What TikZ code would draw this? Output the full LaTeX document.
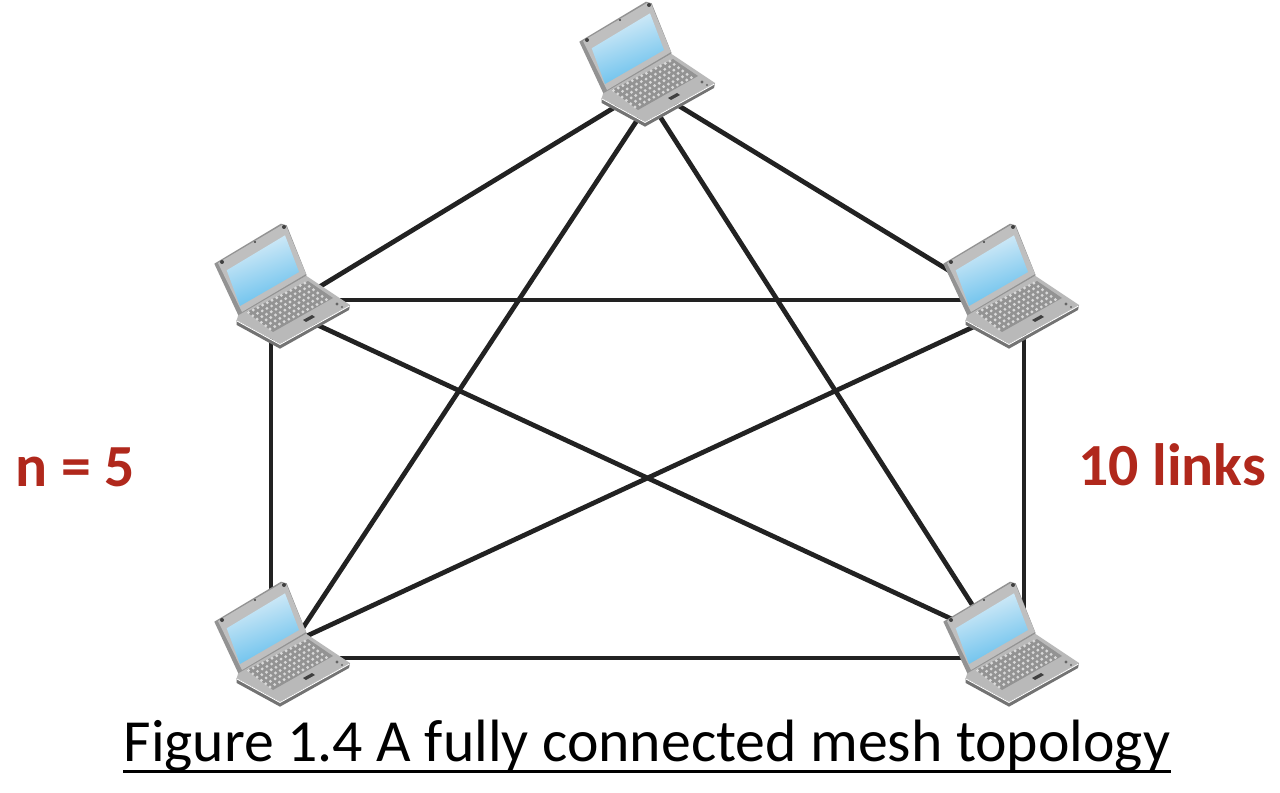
\documentclass[tikz,border=0pt]{standalone}
\usepackage{fontspec}
\setmainfont{Carlito}
\usetikzlibrary{positioning, backgrounds}
\definecolor{linkblack}{HTML}{222222}
\definecolor{labelred}{HTML}{B0281C}
\definecolor{screenlight}{HTML}{DCEEF8}
\definecolor{screenblue}{HTML}{63BEEC}
\tikzset{
  laptop/.pic={
    % ports for the links, hidden under the laptop
    \coordinate (-c) at (68,87);
    \coordinate (-h) at (68,78);
    \coordinate (-s) at (68,67);
    \coordinate (-l) at (56,80);
    \coordinate (-r) at (80,80);
    \coordinate (-p) at (63,90);
    \coordinate (-q) at (77,90);
    % base and lid
    \fill[gray!90!black] (21.7,98) -- (21.7,103) -- (65,126.7) -- (134,88) -- (135,83) -- (65,121.7) -- cycle;
    \fill[gray!55] (21.7,98) -- (23.3,93) -- (90,53) -- (135,83) -- (65,121.7) -- cycle;
    \fill[gray!85] (-0.7,41.7) -- (66,1.7) -- (71.7,3.3) -- (91.7,53.3) -- (23.3,93.3) -- cycle;
    \fill[gray!50] (3,41) -- (67,3) -- (71.7,5) -- (91,52) -- (27,90) -- cycle;
    \shade[left color=screenlight, right color=screenblue, shading angle=20] (11.7,48.3) -- (70,13.3) -- (84,50) -- (25,84) -- cycle;
    \fill[black!75] (7,40) circle (2) (69,5) circle (2) (40,20) circle (1.2);
    % keyboard
    \fill[gray!85] (31.7,90) -- (93,59) -- (118,76) -- (58,110) -- cycle;
    \foreach \i in {0,...,12} \foreach \j in {0,...,5}
      \fill[gray!30] ({33.5+\i*4.7+\j*4.3},{90.5-\i*2.45+\j*3.3}) circle (1.6);
    \fill[black!75] (88,98) -- (97,93) -- (100,95) -- (91,100) -- cycle;
    \fill[black!60] (127,85) circle (1.2) (122,82) circle (1.6);
    \draw[white, line width=0.5pt] (22,99) -- (65,122.5) -- (134.5,84);
  },
  link/.style={line width=2.7pt, linkblack},
  redlbl/.style={font=\fontsize{34}{40}\selectfont\bfseries, text=labelred, inner sep=0pt},
  caption/.style={font=\fontsize{34}{40}\selectfont, text=black, inner sep=0pt},
}
\begin{document}
\begin{tikzpicture}[x=0.02cm, y=-0.02cm]
  \useasboundingbox (0,0) rectangle (1280,793);
  % laptops
  \pic (top) at (580,0) {laptop};
  \pic (left) at (215,222) {laptop};
  \pic (right) at (944,222) {laptop};
  \pic (botl) at (215,580) {laptop};
  \pic (botr) at (944,580) {laptop};
  % links, behind the laptops
  \begin{scope}[on background layer]
    \draw[link] (top-c) -- (left-c);
    \draw[link] (top-c) -- (right-c);
    \draw[link] (top-q) -- (botl-h);
    \draw[link] (top-p) -- (botr-c);
    \draw[link] (left-h) -- (right-h);
    \draw[link] (left-l) -- (botl-l);
    \draw[link] (right-r) -- (botr-r);
    \draw[link] (left-c) -- (botr-s);
    \draw[link] (right-c) -- (botl-s);
    \draw[link] (botl-h) -- (botr-h);
  \end{scope}
  % labels
  \node[redlbl] (nval) at (75,467) {n = 5};
  \node[redlbl] (nlinks) at (1172,465) {10 links};
  \node[caption] (figcap) at (647,746) {Figure 1.4 A fully connected mesh topology};
  \draw[line width=1.7pt] ([yshift=-2mm]figcap.base west) -- ([yshift=-2mm]figcap.base east);
\end{tikzpicture}
\end{document}
